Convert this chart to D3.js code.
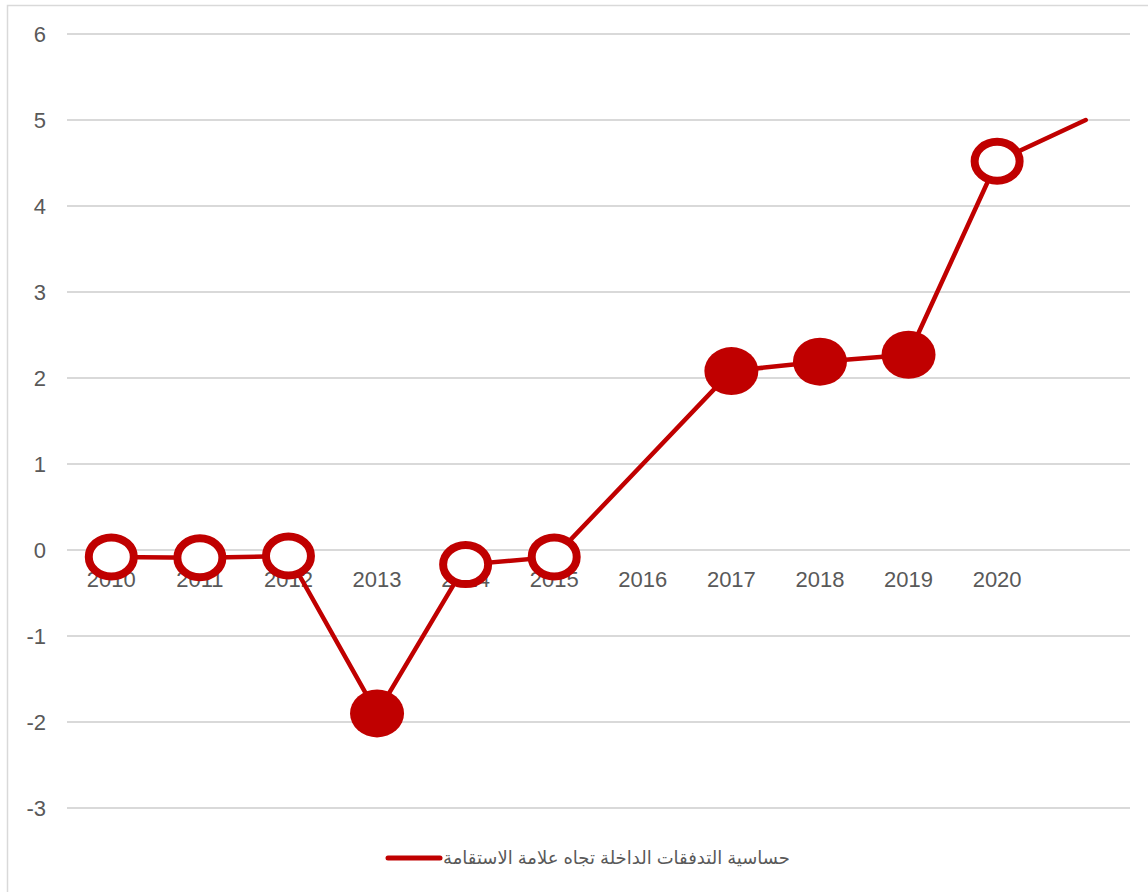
<!DOCTYPE html>
<html>
<head>
<meta charset="utf-8">
<script src="https://cdn.jsdelivr.net/npm/d3@7"></script>
<style>
  body { margin: 0; background: #fff; }
  text { font-family: Arial, "Liberation Sans", "DejaVu Sans", sans-serif; }
</style>
</head>
<body>
<script>
var years = ["2010", "2011", "2012", "2013", "2014", "2015", "2016", "2017", "2018", "2019", "2020", ""];
var values = [-0.08, -0.09, -0.07, -1.9, -0.17, -0.08, 1.0, 2.08, 2.19, 2.27, 4.52, 5.0];
// marker kind per point: o = hollow, f = filled, n = none
var markers = ["o", "o", "o", "f", "o", "o", "n", "f", "f", "f", "o", "n"];
var yTicks = [-3, -2, -1, 0, 1, 2, 3, 4, 5, 6];
var seriesName = "حساسية التدفقات الداخلة تجاه علامة الاستقامة";

var width = 1148, height = 892;
var red = "#C00000";

var svg = d3.select("body")
  .append("svg")
  .attr("width", width)
  .attr("height", height);

// outer frame (only top and left edges show)
svg.append("path")
  .attr("d", "M7.5,892 L7.5,5.5 L1148,5.5")
  .attr("fill", "none")
  .attr("stroke", "#d9d9d9")
  .attr("stroke-width", 1.5);

var x = d3.scaleBand().domain(d3.range(years.length)).range([67, 1130]).padding(0);
var y = d3.scaleLinear().domain([-3, 6]).range([808, 34]);
var cx = function(i) { return x(i) + x.bandwidth() / 2; };

// gridlines
svg.append("g")
  .selectAll("line")
  .data(yTicks)
  .enter()
  .append("line")
  .attr("x1", 67)
  .attr("x2", 1130)
  .attr("y1", function(d) { return y(d); })
  .attr("y2", function(d) { return y(d); })
  .attr("stroke", "#d9d9d9")
  .attr("stroke-width", 2);

// y labels
svg.append("g")
  .selectAll("text")
  .data(yTicks)
  .enter()
  .append("text")
  .attr("x", 46)
  .attr("y", function(d) { return y(d) + 8; })
  .attr("text-anchor", "end")
  .attr("font-size", 22)
  .attr("fill", "#595959")
  .text(function(d) { return d; });

// x labels
svg.append("g")
  .selectAll("text")
  .data(years)
  .enter()
  .append("text")
  .attr("x", function(d, i) { return cx(i); })
  .attr("y", y(0) + 37)
  .attr("text-anchor", "middle")
  .attr("font-size", 22)
  .attr("fill", "#595959")
  .text(function(d) { return d; });

// line
var line = d3.line()
  .x(function(d, i) { return cx(i); })
  .y(function(d) { return y(d); });

svg.append("path")
  .datum(values)
  .attr("d", line)
  .attr("fill", "none")
  .attr("stroke", red)
  .attr("stroke-width", 4.5)
  .attr("stroke-linecap", "round")
  .attr("stroke-linejoin", "round");

// markers
var pts = values.map(function(v, i) { return {v: v, i: i, m: markers[i]}; })
  .filter(function(d) { return d.m !== "n"; });

svg.append("g")
  .selectAll("ellipse")
  .data(pts)
  .enter()
  .append("ellipse")
  .attr("cx", function(d) { return cx(d.i); })
  .attr("cy", function(d) { return y(d.v); })
  .attr("rx", function(d) { return d.m === "f" ? 27 : 22.5; })
  .attr("ry", function(d) { return d.m === "f" ? 24 : 19.5; })
  .attr("fill", function(d) { return d.m === "f" ? red : "#fff"; })
  .attr("stroke", red)
  .attr("stroke-width", function(d) { return d.m === "f" ? 0 : 8; });

// legend
var lg = svg.append("g");
lg.append("line")
  .attr("x1", 388).attr("x2", 440)
  .attr("y1", 858).attr("y2", 858)
  .attr("stroke", red)
  .attr("stroke-width", 5)
  .attr("stroke-linecap", "round");
lg.append("text")
  .attr("x", 443)
  .attr("y", 864)
  .attr("font-size", 18)
  .attr("fill", "#595959")
  .attr("text-anchor", "start")
  .attr("direction", "ltr")
  .text(seriesName);
</script>
</body>
</html>
